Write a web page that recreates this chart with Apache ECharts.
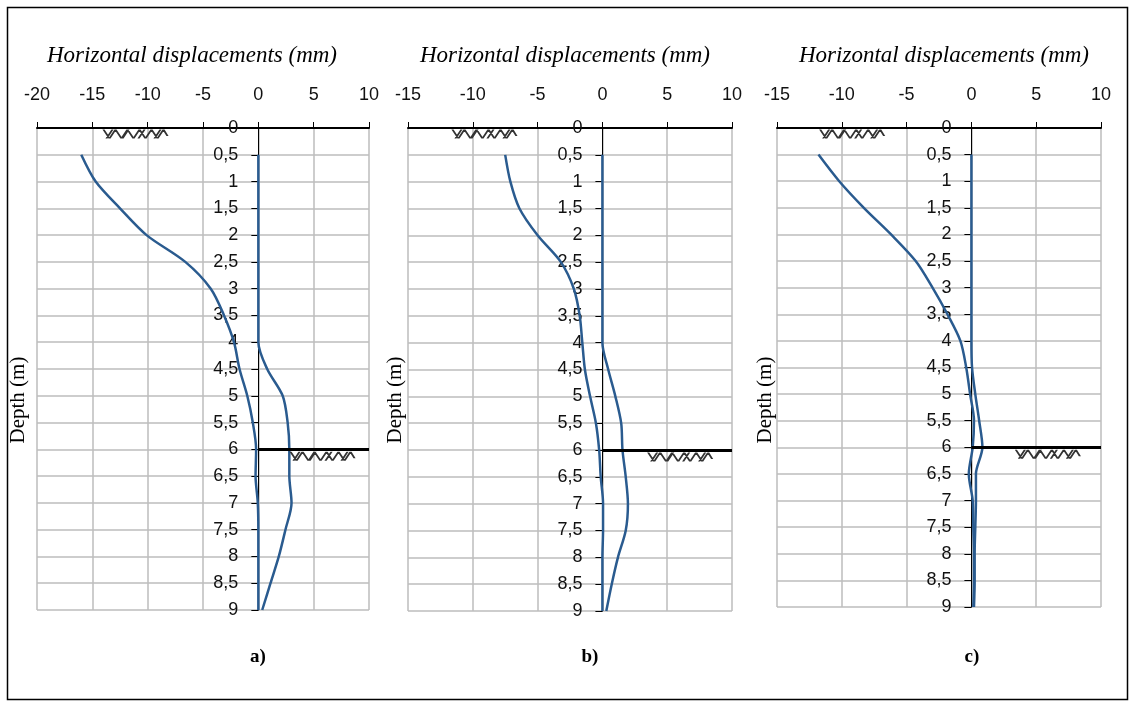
<!DOCTYPE html>
<html>
<head>
<meta charset="utf-8">
<script src="https://cdn.jsdelivr.net/npm/echarts@6/dist/echarts.min.js"></script>
<style>
html, body { margin: 0; padding: 0; background: #fff; }
#main { width: 1134px; height: 708px; }
</style>
</head>
<body>
<div id="main"></div>
<script>
// depth points (m), shared by all panels
var depth = [0.5, 1, 1.5, 2, 2.5, 3, 3.5, 4, 4.5, 5, 5.5, 6, 6.5, 7, 7.5, 8, 8.5, 9];

// horizontal displacements (mm)
var aLeft  = [-16, -14.7, -12.5, -10.1, -6.6, -4.3, -3.1, -2.2, -1.7, -1.0, -0.5, -0.2, -0.25, -0.05, 0, 0, 0, 0];
var aRight = [0, 0, 0, 0, 0, 0, 0, 0, 0.8, 2.2, 2.65, 2.8, 2.8, 3.0, 2.45, 1.85, 1.1, 0.35];
var bLeft  = [-7.5, -7.1, -6.4, -5.0, -3.2, -2.2, -1.75, -1.55, -1.35, -0.95, -0.5, -0.25, -0.13, 0.05, 0.05, 0, 0, 0];
var bRight = [0, 0, 0, 0, 0, 0, 0, 0, 0.45, 1.0, 1.45, 1.55, 1.8, 1.97, 1.8, 1.2, 0.72, 0.3];
var cLeft  = [-11.8, -10.2, -8.3, -6.2, -4.3, -3.0, -1.85, -0.85, -0.4, -0.1, 0.2, 0.1, -0.2, 0.1, 0.15, 0.2, 0.2, 0.15];
var cRight = [0, 0, 0, 0, 0, 0, 0, 0, 0.05, 0.3, 0.6, 0.85, 0.35, 0.35, 0.3, 0.25, 0.25, 0.2];

// x axis ranges
var xMins = [-20, -15, -15];
var xMaxs = [10, 10, 10];
// ground levels: surface at 0, excavation bottom at 6 m
var groundDepth = 6;
var hatchTopX = [-11.1, -9.1, -9.2];
var hatchBotX = [5.8, 6.0, 5.9];
var panelLabels = ['a)', 'b)', 'c)'];

var lineColor = '#2a5b8f';
var hatchPath = 'path://M0 1 L6 8 L12 1 L18 8 L24 1 L30 8 L36 1 L42 8 L48 1 L54 8 L60 1 L64 6 ' +
	'M3 8 L9 1 M19 8 L25 1 M35 8 L41 1 M51 8 L57 1';

var myChart = echarts.init(document.getElementById('main'));

function pairs(xs) {
	var out = [];
	for (var i = 0; i < xs.length; i++) {
		out.push([xs[i], depth[i]]);
	}
	return out;
}

// pixel boxes of the three plots
var grids = [
	{ left: 37, top: 128, width: 332, height: 482, outerBoundsMode: 'none' },
	{ left: 408, top: 128, width: 324, height: 483, outerBoundsMode: 'none' },
	{ left: 777, top: 128, width: 324, height: 479, outerBoundsMode: 'none' }
];

var xAxes = [], yAxes = [], series = [];
var panelData = [[aLeft, aRight], [bLeft, bRight], [cLeft, cRight]];

for (var p = 0; p < 3; p++) {
	// depth axis sits on x = 0, shift it right from the grid's left edge
	var zeroShift = grids[p].width * (0 - xMins[p]) / (xMaxs[p] - xMins[p]);
	xAxes.push({
		gridIndex: p,
		type: 'value',
		position: 'top',
		min: xMins[p],
		max: xMaxs[p],
		interval: 5,
		axisLine: { onZero: false, lineStyle: { color: '#000', width: 2 } },
		axisTick: { show: true, length: 6, lineStyle: { color: '#000' } },
		axisLabel: {
			margin: 24,
			color: '#111',
			fontFamily: 'Liberation Sans',
			fontSize: 18
		},
		splitLine: { show: true, lineStyle: { color: '#bdbdbd', width: 1.5 } }
	});
	yAxes.push({
		gridIndex: p,
		type: 'value',
		inverse: true,
		min: 0,
		max: 9,
		interval: 0.5,
		position: 'left',
		offset: -zeroShift,
		axisLine: { show: true, onZero: false, lineStyle: { color: '#000', width: 1 } },
		axisTick: { show: true, length: 7, lineStyle: { color: '#000' } },
		axisLabel: {
			margin: 20,
			color: '#111',
			fontFamily: 'Liberation Sans',
			fontSize: 18,
			formatter: function (v) { return String(v).replace('.', ','); }
		},
		splitLine: { show: true, lineStyle: { color: '#bdbdbd', width: 1.5 } }
	});

	for (var s = 0; s < 2; s++) {
		var ser = {
			type: 'line',
			xAxisIndex: p,
			yAxisIndex: p,
			data: pairs(panelData[p][s]),
			smooth: 0.3,
			symbol: 'none',
			lineStyle: { color: lineColor, width: 2.5 },
			silent: true,
			z: 3
		};
		if (s == 0) {
			// excavation bottom line plus the two hatch marks
			ser.markLine = {
				silent: true,
				symbol: 'none',
				label: { show: false },
				lineStyle: { color: '#000', width: 3, type: 'solid' },
				data: [[{ coord: [0, groundDepth] }, { coord: [xMaxs[p], groundDepth] }]]
			};
			ser.markPoint = {
				silent: true,
				symbol: hatchPath,
				symbolSize: [64, 9],
				label: { show: false },
				itemStyle: { color: 'transparent', borderColor: '#333', borderWidth: 0.8 },
				data: [
					{ coord: [hatchTopX[p], 0], symbolOffset: [0, 6] },
					{ coord: [hatchBotX[p], groundDepth], symbolOffset: [0, 7] }
				]
			};
		}
		series.push(ser);
	}
}

var titleFont = 'italic 23px "Liberation Serif"';
var graphics = [
	{ type: 'rect', shape: { x: 7.5, y: 7.5, width: 1120, height: 692 },
	  style: { fill: 'none', stroke: '#000', lineWidth: 1.5 } }
];
var titleX = [192, 565, 944];
var depthX = [18, 395, 765];
var labelX = [258, 590, 972];
for (var k = 0; k < 3; k++) {
	graphics.push({
		type: 'text', x: titleX[k], y: 56,
		style: { text: 'Horizontal displacements (mm)', font: titleFont, fill: '#000',
			textAlign: 'center', textVerticalAlign: 'middle' }
	});
	graphics.push({
		type: 'text', x: depthX[k], y: 400, rotation: Math.PI / 2,
		style: { text: 'Depth (m)', font: '21px "Liberation Serif"', fill: '#000',
			textAlign: 'center', textVerticalAlign: 'middle' }
	});
	graphics.push({
		type: 'text', x: labelX[k], y: 657,
		style: { text: panelLabels[k], font: 'bold 19px "Liberation Serif"', fill: '#000',
			textAlign: 'center', textVerticalAlign: 'middle' }
	});
}

var option = {
	animation: false,
	backgroundColor: '#fff',
	grid: grids,
	xAxis: xAxes,
	yAxis: yAxes,
	series: series,
	graphic: graphics
};
myChart.setOption(option);
</script>
</body>
</html>
